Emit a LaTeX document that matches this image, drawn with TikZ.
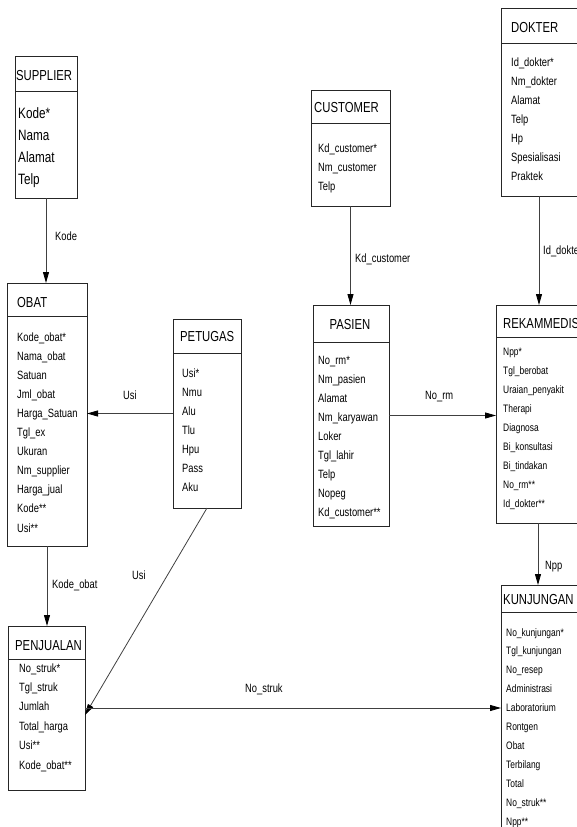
\documentclass[tikz,border=0pt]{standalone}
\usepackage{fontspec}
\setmainfont{Liberation Sans}[FakeStretch=0.78]
\usetikzlibrary{arrows.meta}
\begin{document}
\begin{tikzpicture}[x=1pt,y=-1pt,
  ent/.style={draw=black!85, line width=0.9pt, inner sep=0pt, outer sep=0pt, anchor=north west},
  divline/.style={draw=black!85, line width=0.9pt},
  head/.style={anchor=base west, inner sep=0pt, font=\fontsize{14.5}{14.5}\selectfont},
  attr/.style={anchor=base west, inner sep=0pt, font=\fontsize{12}{12}\selectfont},
  bigattr/.style={anchor=base west, inner sep=0pt, font=\fontsize{15}{15}\selectfont},
  smallattr/.style={anchor=base west, inner sep=0pt, font=\fontsize{10.8}{10.8}\selectfont},
  lbl/.style={anchor=base west, inner sep=0pt, font=\fontsize{12}{12}\selectfont},
  link/.style={draw=black!75, line width=0.8pt, -{Triangle[length=11pt,width=6pt,color=black,fill=black]}},
]
\useasboundingbox (0,0) rectangle (577,827);
\clip (0,0) rectangle (577,827);

% ---------- SUPPLIER ----------
\node[ent, minimum width=62pt, minimum height=142pt] (supplier) at (15,56) {};
\draw[divline] (supplier.west |- 0,91) -- (supplier.east |- 0,91);
\node[head] (supplier-h) at (16,80) {SUPPLIER};
\foreach \t [count=\i from 0] in {Kode*, Nama, Alamat, Telp}
  \node[bigattr] (supplier-a\i) at (18,118+22*\i) {\t};

% ---------- OBAT ----------
\node[ent, minimum width=80pt, minimum height=263pt] (obat) at (7,283) {};
\draw[divline] (obat.west |- 0,316) -- (obat.east |- 0,316);
\node[head] (obat-h) at (17,307) {OBAT};
\foreach \t [count=\i from 0] in {Kode\_obat*, Nama\_obat, Satuan, Jml\_obat, Harga\_Satuan,
    Tgl\_ex, Ukuran, Nm\_supplier, Harga\_jual, Kode**, Usi**}
  \node[attr] (obat-a\i) at (17,341+19.1*\i) {\t};

% ---------- PETUGAS ----------
\node[ent, minimum width=68pt, minimum height=189pt] (petugas) at (173,319) {};
\draw[divline] (petugas.west |- 0,353) -- (petugas.east |- 0,353);
\node[head] (petugas-h) at (180,341) {PETUGAS};
\foreach \t [count=\i from 0] in {Usi*, Nmu, Alu, Tlu, Hpu, Pass, Aku}
  \node[attr] (petugas-a\i) at (182,377+19*\i) {\t};

% ---------- PENJUALAN ----------
\node[ent, minimum width=77pt, minimum height=164pt] (penj) at (8,626) {};
\draw[divline] (penj.west |- 0,659) -- (penj.east |- 0,659);
\node[head] (penj-h) at (15,650) {PENJUALAN};
\foreach \t [count=\i from 0] in {No\_struk*, Tgl\_struk, Jumlah, Total\_harga, Usi**, Kode\_obat**}
  \node[attr] (penj-a\i) at (19,672+19.4*\i) {\t};

% ---------- CUSTOMER ----------
\node[ent, minimum width=79pt, minimum height=116pt] (customer) at (311,90) {};
\draw[divline] (customer.west |- 0,123) -- (customer.east |- 0,123);
\node[head] (customer-h) at (314,112) {CUSTOMER};
\foreach \t [count=\i from 0] in {Kd\_customer*, Nm\_customer, Telp}
  \node[attr] (customer-a\i) at (318,152+19*\i) {\t};

% ---------- PASIEN ----------
\node[ent, minimum width=76pt, minimum height=221pt] (pasien) at (313,305) {};
\draw[divline] (pasien.west |- 0,342) -- (pasien.east |- 0,342);
\node[head, anchor=base] (pasien-h) at (350,329) {PASIEN};
\foreach \t [count=\i from 0] in {No\_rm*, Nm\_pasien, Alamat, Nm\_karyawan, Loker,
    Tgl\_lahir, Telp, Nopeg, Kd\_customer**}
  \node[attr] (pasien-a\i) at (318,364+19.1*\i) {\t};

% ---------- DOKTER ----------
\node[ent, minimum width=100pt, minimum height=188pt] (dokter) at (501,8) {};
\draw[divline] (dokter.west |- 0,43) -- (dokter.east |- 0,43);
\node[head] (dokter-h) at (511,32) {DOKTER};
\foreach \t [count=\i from 0] in {Id\_dokter*, Nm\_dokter, Alamat, Telp, Hp, Spesialisasi, Praktek}
  \node[attr] (dokter-a\i) at (511,66+19*\i) {\t};

% ---------- REKAMMEDIS ----------
\node[ent, minimum width=100pt, minimum height=218pt] (rekam) at (496,305) {};
\draw[divline] (rekam.west |- 0,337) -- (rekam.east |- 0,337);
\node[head] (rekam-h) at (503,328) {REKAMMEDIS};
\foreach \t [count=\i from 0] in {Npp*, Tgl\_berobat, Uraian\_penyakit, Therapi, Diagnosa,
    Bi\_konsultasi, Bi\_tindakan, No\_rm**, Id\_dokter**}
  \node[smallattr] (rekam-a\i) at (503,355+19.1*\i) {\t};

% ---------- KUNJUNGAN ----------
\node[ent, minimum width=100pt, minimum height=265pt] (kunj) at (501,585) {};
\draw[divline] (kunj.west |- 0,612) -- (kunj.east |- 0,612);
\node[head] (kunj-h) at (503,604) {KUNJUNGAN};
\foreach \t [count=\i from 0] in {No\_kunjungan*, Tgl\_kunjungan, No\_resep, Administrasi,
    Laboratorium, Rontgen, Obat, Terbilang, Total, No\_struk**, Npp**}
  \node[smallattr] (kunj-a\i) at (506,636+18.9*\i) {\t};

% ---------- relationships ----------
\draw[link] (supplier.south) -- (supplier.south |- obat.north);
\draw[link] (obat.south) -- (obat.south |- penj.north);
\draw[link] (petugas.west) -- (petugas.west -| obat.east);
\draw[link] (petugas.south) -- ([yshift=-7pt]penj.east);
\draw[link] (penj.east) -- (penj.east -| kunj.west);
\draw[link] (customer.south) -- (customer.south |- pasien.north);
\draw[link] (pasien.east) -- (pasien.east -| rekam.west);
\coordinate (dkfoot) at ([xshift=38pt]dokter.south west);
\draw[link] (dkfoot) -- (dkfoot |- rekam.north);
\coordinate (rmfoot) at ([xshift=42pt]rekam.south west);
\draw[link] (rmfoot) -- (rmfoot |- kunj.north);

% ---------- relationship labels ----------
\node[lbl] (l-kode) at (55,240) {Kode};
\node[lbl] (l-usi1) at (123,399) {Usi};
\node[lbl] (l-usi2) at (132,579) {Usi};
\node[lbl] (l-kodeobat) at (52,588) {Kode\_obat};
\node[lbl] (l-nostruk) at (245,692) {No\_struk};
\node[lbl] (l-kdcust) at (355,262) {Kd\_customer};
\node[lbl] (l-norm) at (425,399) {No\_rm};
\node[lbl] (l-iddok) at (543,254) {Id\_dokter};
\node[lbl] (l-npp) at (545,569) {Npp};
\end{tikzpicture}
\end{document}
